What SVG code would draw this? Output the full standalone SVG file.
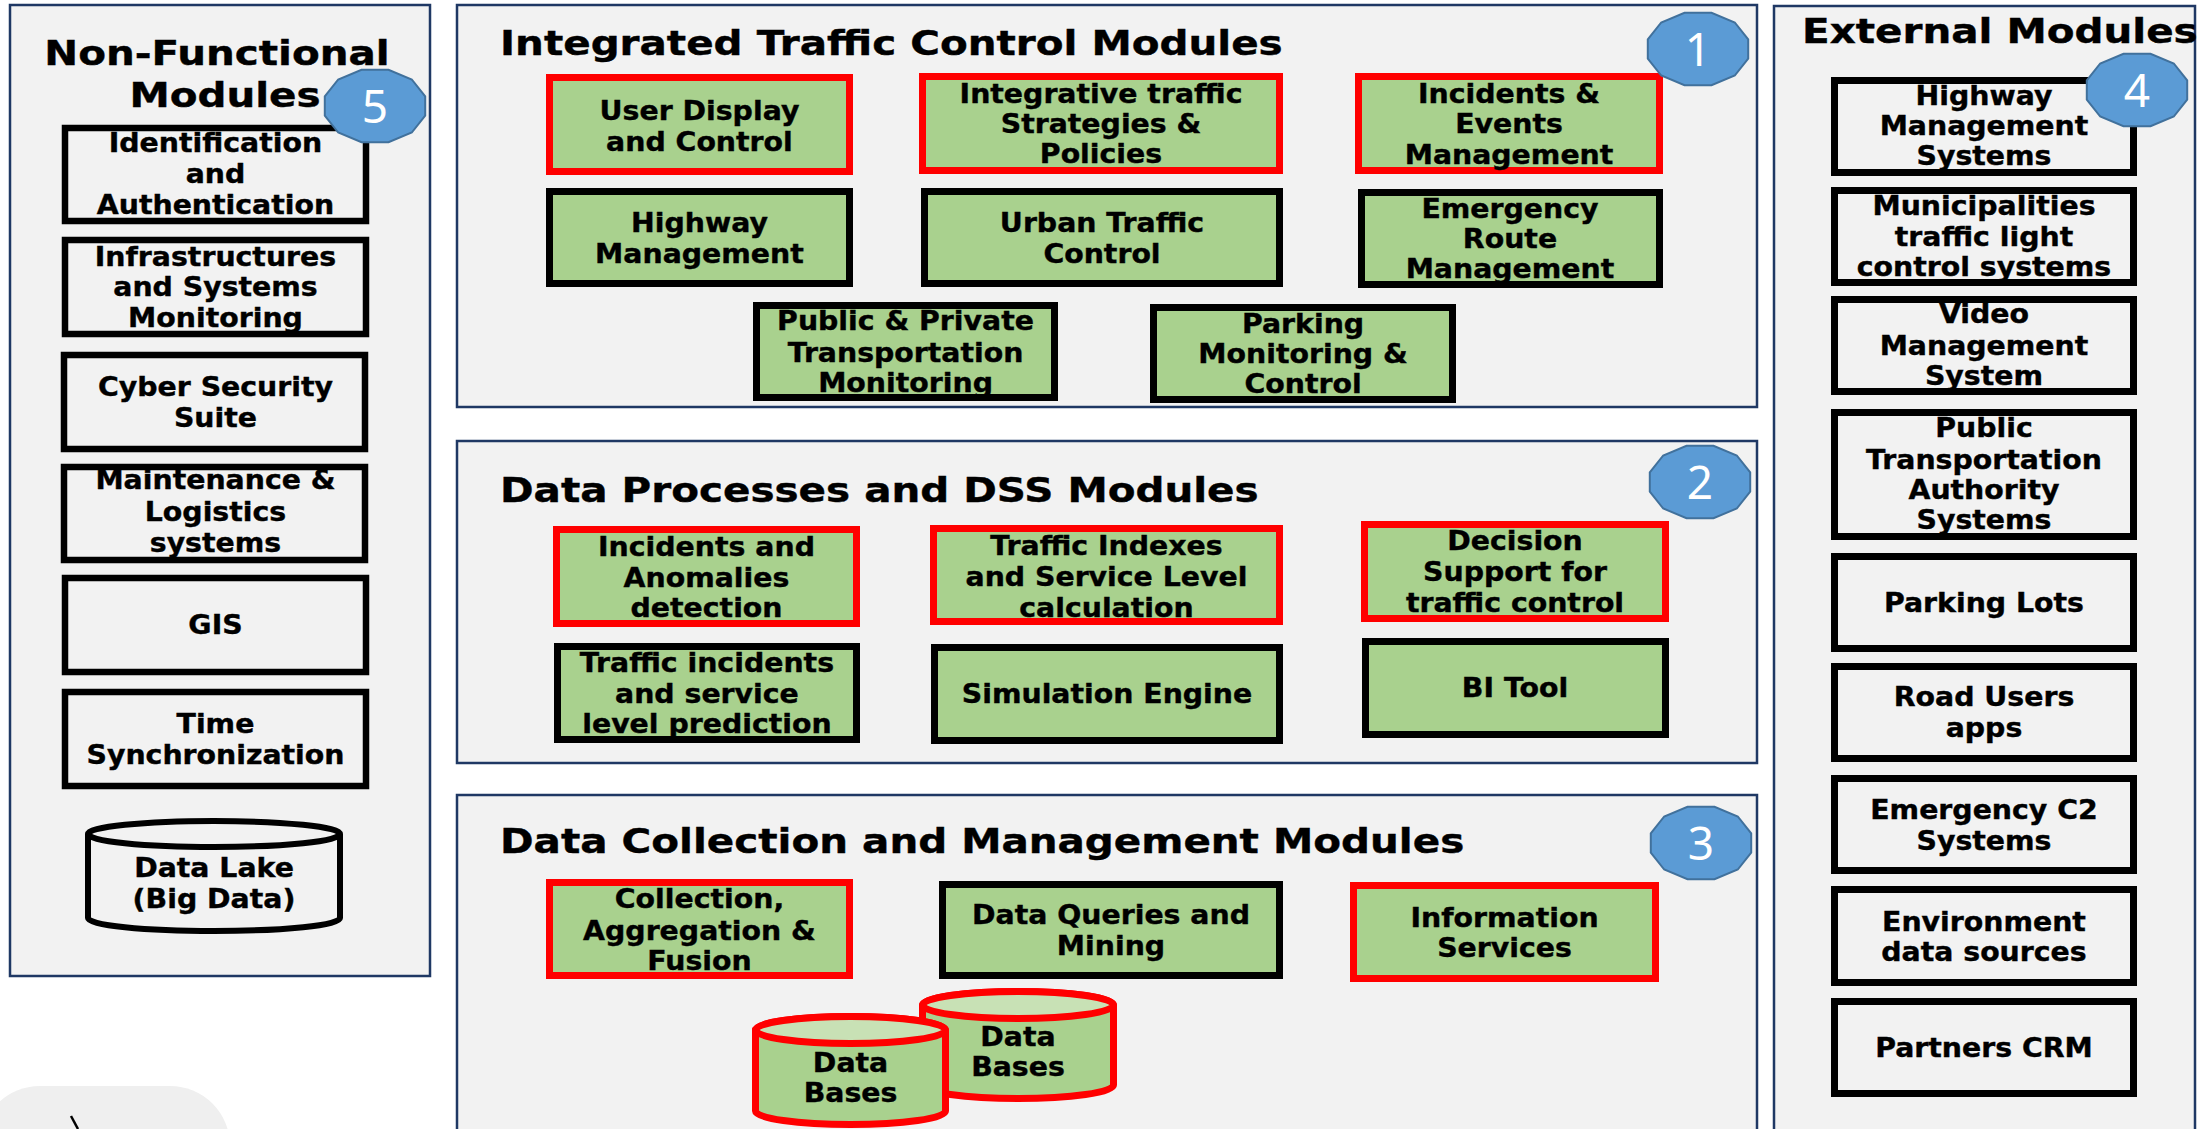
<svg xmlns="http://www.w3.org/2000/svg" xmlns:xlink="http://www.w3.org/1999/xlink" width="2207" height="1129" viewBox="0 0 2207 1129">
<style>
.panel{fill:#F2F2F2;stroke:#1F3864;stroke-width:2.5}
.g{fill:#A9D18E;stroke-width:7}
.red{stroke:#FF0000}
.blk{stroke:#000000}
.w{fill:#F2F2F2;stroke:#000;stroke-width:7}
.wl{fill:#F2F2F2;stroke:#000;stroke-width:6.5}
.t{font-family:"DejaVu Sans",Verdana,sans-serif;font-weight:bold;font-size:26.5px;text-anchor:middle;fill:#000;stroke:#000;stroke-width:0.4}
.h{font-family:"DejaVu Sans",Verdana,sans-serif;font-weight:bold;font-size:34px;fill:#000;stroke:#000;stroke-width:0.4}
.bn{font-family:"Noto Sans","Open Sans",sans-serif;font-size:46px;fill:#fff;text-anchor:middle}
.badge{fill:#5B9BD5;stroke:#41719C;stroke-width:2}
.dbtop{fill:#C8E1B5}
</style>
<defs>
<polygon id="bdg" points="50.2,9.7 36.8,26.5 13.5,36.2 -13.5,36.2 -36.8,26.5 -50.2,9.7 -50.2,-9.7 -36.8,-26.5 -13.5,-36.2 13.5,-36.2 36.8,-26.5 50.2,-9.7"/>
</defs>
<rect width="2207" height="1129" fill="#FFFFFF"/>

<!-- bottom-left partial shape -->
<g id="corner-shape">
<rect x="-20" y="1086" width="250" height="120" rx="60" ry="60" fill="#EFEFEF"/>
<line x1="71" y1="1116" x2="78" y2="1129" stroke="#000" stroke-width="2.5"/>
</g>

<!-- panels -->
<g id="panel-nonfunctional">
<rect class="panel" x="10" y="5" width="420" height="971"/>
<text class="h" transform="scale(1.19 1)" text-anchor="middle"><tspan x="182.4" y="65">Non-Functional</tspan><tspan x="189.1" y="107">Modules</tspan></text>
</g>
<g id="panel-itc">
<rect class="panel" x="457" y="5" width="1300" height="402"/>
<text class="h" transform="scale(1.19 1)" x="420.2" y="55">Integrated Traffic Control Modules</text>
</g>
<g id="panel-dss">
<rect class="panel" x="457" y="441" width="1300" height="322"/>
<text class="h" transform="scale(1.19 1)" x="420.2" y="502">Data Processes and DSS Modules</text>
</g>
<g id="panel-dcm">
<rect class="panel" x="457" y="795" width="1300" height="360"/>
<text class="h" transform="scale(1.19 1)" x="420.2" y="853">Data Collection and Management Modules</text>
</g>
<g id="panel-external">
<rect class="panel" x="1774" y="6" width="421" height="1150"/>
<text class="h" transform="scale(1.19 1)" x="1514.3" y="43">External Modules</text>
</g>

<!-- Non-functional nodes -->
<g id="n-ident"><rect class="wl" x="65" y="128" width="301" height="93"/>
<text class="t" transform="scale(1.07 1)"><tspan x="201.4" y="152">Identification</tspan><tspan x="201.4" y="183">and</tspan><tspan x="201.4" y="214">Authentication</tspan></text></g>
<g id="n-infra"><rect class="wl" x="65" y="240" width="301" height="94"/>
<text class="t" transform="scale(1.07 1)"><tspan x="201.4" y="266">Infrastructures</tspan><tspan x="201.4" y="296">and Systems</tspan><tspan x="201.4" y="327">Monitoring</tspan></text></g>
<g id="n-cyber"><rect class="wl" x="64" y="355" width="301" height="94"/>
<text class="t" transform="scale(1.07 1)"><tspan x="201.4" y="396">Cyber Security</tspan><tspan x="201.4" y="427">Suite</tspan></text></g>
<g id="n-maint"><rect class="wl" x="64" y="467" width="301" height="93"/>
<text class="t" transform="scale(1.07 1)"><tspan x="201.4" y="489">Maintenance &amp;</tspan><tspan x="201.4" y="521">Logistics</tspan><tspan x="201.4" y="552">systems</tspan></text></g>
<g id="n-gis"><rect class="wl" x="65" y="578" width="301" height="94"/>
<text class="t" transform="scale(1.07 1)"><tspan x="201.4" y="634">GIS</tspan></text></g>
<g id="n-time"><rect class="wl" x="65" y="692" width="301" height="94"/>
<text class="t" transform="scale(1.07 1)"><tspan x="201.4" y="733">Time</tspan><tspan x="201.4" y="764">Synchronization</tspan></text></g>
<g id="n-datalake">
<path d="M88,834 A126,13 0 0 1 340,834 V918 A126,13 0 0 1 88,918 Z" fill="#F2F2F2" stroke="#000" stroke-width="6"/>
<path d="M88,834 A126,13 0 0 0 340,834" fill="none" stroke="#000" stroke-width="6"/>
<text class="t" transform="scale(1.07 1)"><tspan x="200" y="877">Data Lake</tspan><tspan x="200" y="908">(Big Data)</tspan></text></g>

<!-- ITC nodes -->
<g id="n-userdisplay"><rect class="g red" x="549.5" y="77.5" width="300" height="94"/>
<text class="t" transform="scale(1.07 1)"><tspan x="653.7" y="120">User Display</tspan><tspan x="653.7" y="151">and Control</tspan></text></g>
<g id="n-integrative"><rect class="g red" x="922.5" y="76.5" width="357" height="94"/>
<text class="t" transform="scale(1.07 1)"><tspan x="1029" y="103">Integrative traffic</tspan><tspan x="1029" y="133">Strategies &amp;</tspan><tspan x="1029" y="163">Policies</tspan></text></g>
<g id="n-incidents-events"><rect class="g red" x="1358.5" y="76.5" width="301" height="94"/>
<text class="t" transform="scale(1.07 1)"><tspan x="1410.3" y="103">Incidents &amp;</tspan><tspan x="1410.3" y="133">Events</tspan><tspan x="1410.3" y="164">Management</tspan></text></g>
<g id="n-highway"><rect class="g blk" x="549.5" y="191.5" width="300" height="92"/>
<text class="t" transform="scale(1.07 1)"><tspan x="653.7" y="232">Highway</tspan><tspan x="653.7" y="263">Management</tspan></text></g>
<g id="n-urban"><rect class="g blk" x="924.5" y="191.5" width="355" height="92"/>
<text class="t" transform="scale(1.07 1)"><tspan x="1029.9" y="232">Urban Traffic</tspan><tspan x="1029.9" y="263">Control</tspan></text></g>
<g id="n-emergency-route"><rect class="g blk" x="1361.5" y="192.5" width="298" height="92"/>
<text class="t" transform="scale(1.07 1)"><tspan x="1411.2" y="218">Emergency</tspan><tspan x="1411.2" y="248">Route</tspan><tspan x="1411.2" y="278">Management</tspan></text></g>
<g id="n-public-private"><rect class="g blk" x="756.5" y="305.5" width="298" height="92"/>
<text class="t" transform="scale(1.07 1)"><tspan x="846.3" y="330">Public &amp; Private</tspan><tspan x="846.3" y="362">Transportation</tspan><tspan x="846.3" y="392">Monitoring</tspan></text></g>
<g id="n-parking"><rect class="g blk" x="1153.5" y="307.5" width="299" height="92"/>
<text class="t" transform="scale(1.07 1)"><tspan x="1217.8" y="333">Parking</tspan><tspan x="1217.8" y="363">Monitoring &amp;</tspan><tspan x="1217.8" y="393">Control</tspan></text></g>

<!-- DSS nodes -->
<g id="n-anomalies"><rect class="g red" x="556.5" y="529.5" width="300" height="94"/>
<text class="t" transform="scale(1.07 1)"><tspan x="660.3" y="556">Incidents and</tspan><tspan x="660.3" y="587">Anomalies</tspan><tspan x="660.3" y="617">detection</tspan></text></g>
<g id="n-indexes"><rect class="g red" x="933.5" y="528.5" width="346" height="93"/>
<text class="t" transform="scale(1.07 1)"><tspan x="1034.1" y="555">Traffic Indexes</tspan><tspan x="1034.1" y="586">and Service Level</tspan><tspan x="1034.1" y="617">calculation</tspan></text></g>
<g id="n-decision"><rect class="g red" x="1364.5" y="524.5" width="301" height="94"/>
<text class="t" transform="scale(1.07 1)"><tspan x="1415.9" y="550">Decision</tspan><tspan x="1415.9" y="581">Support for</tspan><tspan x="1415.9" y="612">traffic control</tspan></text></g>
<g id="n-prediction"><rect class="g blk" x="557.5" y="646.5" width="299" height="93"/>
<text class="t" transform="scale(1.07 1)"><tspan x="660.7" y="672">Traffic incidents</tspan><tspan x="660.7" y="703">and service</tspan><tspan x="660.7" y="733">level prediction</tspan></text></g>
<g id="n-simulation"><rect class="g blk" x="934.5" y="647.5" width="345" height="93"/>
<text class="t" transform="scale(1.07 1)"><tspan x="1034.6" y="703">Simulation Engine</tspan></text></g>
<g id="n-bi"><rect class="g blk" x="1365.5" y="641.5" width="300" height="93"/>
<text class="t" transform="scale(1.07 1)"><tspan x="1415.9" y="697">BI Tool</tspan></text></g>

<!-- DCM nodes -->
<g id="n-collection"><rect class="g red" x="549.5" y="882.5" width="300" height="93"/>
<text class="t" transform="scale(1.07 1)"><tspan x="653.7" y="908">Collection,</tspan><tspan x="653.7" y="940">Aggregation &amp;</tspan><tspan x="653.7" y="970">Fusion</tspan></text></g>
<g id="n-queries"><rect class="g blk" x="942.5" y="884.5" width="337" height="91"/>
<text class="t" transform="scale(1.07 1)"><tspan x="1038.3" y="924">Data Queries and</tspan><tspan x="1038.3" y="955">Mining</tspan></text></g>
<g id="n-info"><rect class="g red" x="1353.5" y="885.5" width="302" height="93"/>
<text class="t" transform="scale(1.07 1)"><tspan x="1406.1" y="927">Information</tspan><tspan x="1406.1" y="957">Services</tspan></text></g>
<g id="n-db2">
<path d="M922.5,1005 A95.5,13.5 0 0 1 1113.5,1005 V1085 A95.5,13.5 0 0 1 922.5,1085 Z" fill="#A9D18E" stroke="#FF0000" stroke-width="7"/>
<ellipse class="dbtop" cx="1018" cy="1005" rx="95.5" ry="13.5" stroke="#FF0000" stroke-width="7"/>
<text class="t" transform="scale(1.07 1)"><tspan x="951.4" y="1046">Data</tspan><tspan x="951.4" y="1076">Bases</tspan></text></g>
<g id="n-db1">
<path d="M755.5,1030 A95,13.5 0 0 1 945.5,1030 V1111 A95,13.5 0 0 1 755.5,1111 Z" fill="#A9D18E" stroke="#FF0000" stroke-width="7"/>
<ellipse class="dbtop" cx="850.5" cy="1030" rx="95" ry="13.5" stroke="#FF0000" stroke-width="7"/>
<text class="t" transform="scale(1.07 1)"><tspan x="794.9" y="1072">Data</tspan><tspan x="794.9" y="1102">Bases</tspan></text></g>

<!-- External nodes -->
<g id="e-highway"><rect class="w" x="1834.5" y="80.5" width="299" height="92"/>
<text class="t" transform="scale(1.07 1)"><tspan x="1854.2" y="105">Highway</tspan><tspan x="1854.2" y="135">Management</tspan><tspan x="1854.2" y="165">Systems</tspan></text></g>
<g id="e-municipal"><rect class="w" x="1834.5" y="190.5" width="299" height="92"/>
<text class="t" transform="scale(1.07 1)"><tspan x="1854.2" y="215">Municipalities</tspan><tspan x="1854.2" y="246">traffic light</tspan><tspan x="1854.2" y="276">control systems</tspan></text></g>
<g id="e-video"><rect class="w" x="1834.5" y="299.5" width="299" height="92"/>
<text class="t" transform="scale(1.07 1)"><tspan x="1854.2" y="323">Video</tspan><tspan x="1854.2" y="355">Management</tspan><tspan x="1854.2" y="385">System</tspan></text></g>
<g id="e-pta"><rect class="w" x="1834.5" y="412.5" width="299" height="124"/>
<text class="t" transform="scale(1.07 1)"><tspan x="1854.2" y="437">Public</tspan><tspan x="1854.2" y="469">Transportation</tspan><tspan x="1854.2" y="499">Authority</tspan><tspan x="1854.2" y="529">Systems</tspan></text></g>
<g id="e-parking"><rect class="w" x="1834.5" y="556.5" width="299" height="92"/>
<text class="t" transform="scale(1.07 1)"><tspan x="1854.2" y="612">Parking Lots</tspan></text></g>
<g id="e-roadusers"><rect class="w" x="1834.5" y="666.5" width="299" height="92"/>
<text class="t" transform="scale(1.07 1)"><tspan x="1854.2" y="706">Road Users</tspan><tspan x="1854.2" y="737">apps</tspan></text></g>
<g id="e-emergency"><rect class="w" x="1834.5" y="778.5" width="299" height="92"/>
<text class="t" transform="scale(1.07 1)"><tspan x="1854.2" y="819">Emergency C2</tspan><tspan x="1854.2" y="850">Systems</tspan></text></g>
<g id="e-environment"><rect class="w" x="1834.5" y="889.5" width="299" height="93"/>
<text class="t" transform="scale(1.07 1)"><tspan x="1854.2" y="931">Environment</tspan><tspan x="1854.2" y="961">data sources</tspan></text></g>
<g id="e-crm"><rect class="w" x="1834.5" y="1001.5" width="299" height="92"/>
<text class="t" transform="scale(1.07 1)"><tspan x="1854.2" y="1057">Partners CRM</tspan></text></g>

<!-- badges -->
<g id="badge-1"><use xlink:href="#bdg" href="#bdg" class="badge" transform="translate(1698 49)"/><text class="bn" x="1698" y="65.5">1</text></g>
<g id="badge-2"><use xlink:href="#bdg" href="#bdg" class="badge" transform="translate(1700 482)"/><text class="bn" x="1700" y="498.5">2</text></g>
<g id="badge-3"><use xlink:href="#bdg" href="#bdg" class="badge" transform="translate(1701 843)"/><text class="bn" x="1701" y="859.5">3</text></g>
<g id="badge-4"><use xlink:href="#bdg" href="#bdg" class="badge" transform="translate(2137 90)"/><text class="bn" x="2137" y="106.5">4</text></g>
<g id="badge-5"><use xlink:href="#bdg" href="#bdg" class="badge" transform="translate(375 106)"/><text class="bn" x="375" y="122.5">5</text></g>

<g id="connectors"></g>
</svg>
